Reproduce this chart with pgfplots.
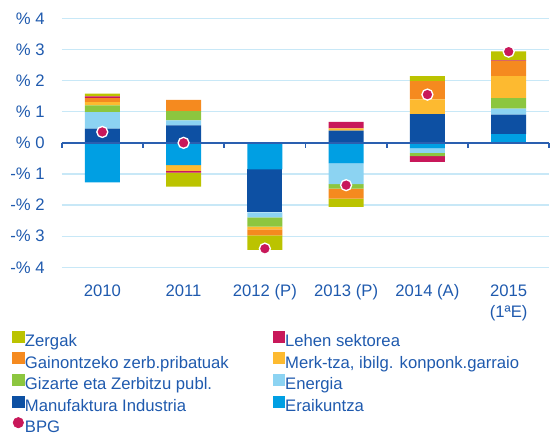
\documentclass[border=0pt,10pt]{standalone}
\usepackage{fontspec}
\setmainfont{Liberation Sans}
\usepackage{pgfplots}
\usepackage{pgfplotstable}
\pgfplotsset{compat=1.18}
\definecolor{cZer}{HTML}{BBC300}
\definecolor{cLeh}{HTML}{C8185A}
\definecolor{cGai}{HTML}{F58A1F}
\definecolor{cMer}{HTML}{FDBA30}
\definecolor{cGiz}{HTML}{8CC63F}
\definecolor{cEne}{HTML}{8CD3F2}
\definecolor{cMan}{HTML}{0D50A3}
\definecolor{cEra}{HTML}{009FE3}
\definecolor{cTxt}{HTML}{1F5AAE}
\definecolor{cAx}{HTML}{2A5FB0}
\definecolor{cGrid}{HTML}{C8E8F7}

\pgfplotstableread{
idx Era Man Ene Giz Mer Gai Leh Zer BPG
0 -1.27 0.46 0.53 0.215 0.105 0.13 0.055 0.09 0.35
1 -0.72 0.56 0.16 0.30 -0.18 0.36 -0.06 -0.45 0.0
2 -0.855 -1.38 -0.16 -0.30 -0.085 -0.19 0 -0.47 -3.40
3 -0.66 0.39 -0.67 -0.14 0.075 -0.32 0.21 -0.27 -1.36
4 -0.18 0.92 -0.14 -0.11 0.48 0.58 -0.18 0.16 1.55
5 0.28 0.63 0.19 0.34 0.70 0.49 0.02 0.29 2.93
}\data

\pgfplotsset{base/.style={width=292.6pt,height=149.4pt,scale only axis,
  xmin=-0.5,xmax=5.5,ymin=-4,ymax=4,enlargelimits=false}}

\begin{document}
\begin{tikzpicture}
\useasboundingbox (-37.0pt,-98.8pt) rectangle (299.0pt,160.4pt);
% positive stacks, grid and labels
\begin{axis}[base, ybar stacked, bar width=21pt,
  axis line style={draw=none}, major tick length=0pt,
  ytick={-4,-3,-2,-1,0,1,2,3,4},
  yticklabels={-\% 4,-\% 3,-\% 2,-\% 1,\% 0,\% 1,\% 2,\% 3,\% 4},
  ymajorgrids, grid style={draw=cGrid,line width=0.8pt},
  xtick={0,1,2,3,4,5},
  xticklabels={2010,2011,2012 (P),2013 (P),2014 (A),{2015\\(1ªE)}},
  xticklabel style={align=center, yshift=-7pt, font=\fontsize{10}{12.6}\selectfont, text=cTxt},
  yticklabel style={xshift=-6.7pt, text=cTxt},
]
\addplot[fill=cEra,draw=none] table[x=idx,y expr={max(\thisrow{Era},0)}]{\data};
\addplot[fill=cMan,draw=none] table[x=idx,y expr={max(\thisrow{Man},0)}]{\data};
\addplot[fill=cEne,draw=none] table[x=idx,y expr={max(\thisrow{Ene},0)}]{\data};
\addplot[fill=cGiz,draw=none] table[x=idx,y expr={max(\thisrow{Giz},0)}]{\data};
\addplot[fill=cMer,draw=none] table[x=idx,y expr={max(\thisrow{Mer},0)}]{\data};
\addplot[fill=cGai,draw=none] table[x=idx,y expr={max(\thisrow{Gai},0)}]{\data};
\addplot[fill=cLeh,draw=none] table[x=idx,y expr={max(\thisrow{Leh},0)}]{\data};
\addplot[fill=cZer,draw=none] table[x=idx,y expr={max(\thisrow{Zer},0)}]{\data};
\end{axis}
% negative stacks
\begin{axis}[base, ybar stacked, bar width=21pt, hide axis]
\addplot[fill=cEra,draw=none] table[x=idx,y expr={min(\thisrow{Era},0)}]{\data};
\addplot[fill=cMan,draw=none] table[x=idx,y expr={min(\thisrow{Man},0)}]{\data};
\addplot[fill=cEne,draw=none] table[x=idx,y expr={min(\thisrow{Ene},0)}]{\data};
\addplot[fill=cGiz,draw=none] table[x=idx,y expr={min(\thisrow{Giz},0)}]{\data};
\addplot[fill=cMer,draw=none] table[x=idx,y expr={min(\thisrow{Mer},0)}]{\data};
\addplot[fill=cGai,draw=none] table[x=idx,y expr={min(\thisrow{Gai},0)}]{\data};
\addplot[fill=cLeh,draw=none] table[x=idx,y expr={min(\thisrow{Leh},0)}]{\data};
\addplot[fill=cZer,draw=none] table[x=idx,y expr={min(\thisrow{Zer},0)}]{\data};
\end{axis}
% zero axis line, boundary ticks, BPG markers and legend
\begin{axis}[base, hide axis, clip=false,
  legend columns=2, legend cell align=left,
  legend style={draw=none, fill=none, inner sep=0pt, outer sep=0pt,
    at={(axis description cs:0,0)}, anchor=north west, xshift=-29.5pt, yshift=-38.1pt,
    font=\fontsize{10}{12}\selectfont, text=cTxt, row sep=1.4pt,
    nodes={inner xsep=0.5pt, inner ysep=0pt, text height=7.5pt, text depth=2pt},
    /tikz/every even column/.append style={column sep=25.8pt}},
]
\addplot[draw=cAx, line width=1.1pt, forget plot] coordinates {(-0.5,0) (5.5,0)};
\addplot[ycomb, draw=cAx, line width=1.1pt, forget plot]
  coordinates {(-0.5,-0.17) (0.5,-0.17) (1.5,-0.17) (2.5,-0.17) (3.5,-0.17) (4.5,-0.17) (5.5,-0.17)};
\addplot[only marks, mark=*, mark size=3.3pt, mark options={fill=cLeh, draw=white, line width=0.8pt}, forget plot]
  table[x=idx,y=BPG]{\data};
\addlegendimage{legend image code/.code={\fill[cZer] (0pt,0pt) rectangle (6.6pt,6.6pt);}}
\addlegendentry{Zergak}
\addlegendimage{legend image code/.code={\fill[cLeh] (0pt,0pt) rectangle (6.6pt,6.6pt);}}
\addlegendentry{Lehen sektorea}
\addlegendimage{legend image code/.code={\fill[cGai] (0pt,0pt) rectangle (6.6pt,6.6pt);}}
\addlegendentry{Gainontzeko zerb.pribatuak}
\addlegendimage{legend image code/.code={\fill[cMer] (0pt,0pt) rectangle (6.6pt,6.6pt);}}
\addlegendentry{Merk-tza, ibilg. konponk.garraio}
\addlegendimage{legend image code/.code={\fill[cGiz] (0pt,0pt) rectangle (6.6pt,6.6pt);}}
\addlegendentry{Gizarte eta Zerbitzu publ.}
\addlegendimage{legend image code/.code={\fill[cEne] (0pt,0pt) rectangle (6.6pt,6.6pt);}}
\addlegendentry{Energia}
\addlegendimage{legend image code/.code={\fill[cMan] (0pt,0pt) rectangle (6.6pt,6.6pt);}}
\addlegendentry{Manufaktura Industria}
\addlegendimage{legend image code/.code={\fill[cEra] (0pt,0pt) rectangle (6.6pt,6.6pt);}}
\addlegendentry{Eraikuntza}
\addlegendimage{legend image code/.code={\fill[cLeh] (3.3pt,3.0pt) circle (3.1pt);}}
\addlegendentry{BPG}
\end{axis}
\end{tikzpicture}
\end{document}
